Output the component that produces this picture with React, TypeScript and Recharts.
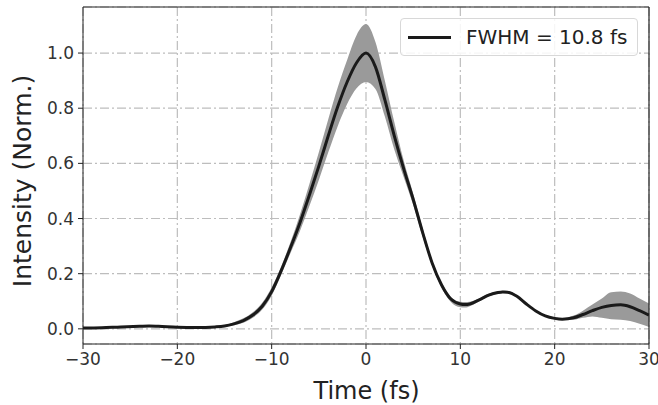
import {
  Area,
  CartesianGrid,
  ComposedChart,
  Line,
  ReferenceLine,
  XAxis,
  YAxis,
} from "recharts";

const FONT = "'DejaVu Sans', sans-serif";
const TICK_COLOR = "#333333";

// time axis (fs)
const time = [
  -30, -28, -26, -24, -23, -22, -20, -18, -16, -15, -14, -13, -12, -11, -10, -9, -8, -7, -6, -5, -4,
  -3, -2, -1, 0, 1, 2, 3, 4, 5, 6, 7, 8, 9, 10, 10.5, 11, 12, 13, 14, 14.5, 15, 16, 17, 18, 19, 20,
  20.8, 22, 23, 24, 25, 26, 27, 28, 29, 30,
];

// mean normalised intensity
const intensity = [
  0.003, 0.004, 0.007, 0.009, 0.01, 0.009, 0.006, 0.005, 0.007, 0.01, 0.018, 0.03, 0.05, 0.082, 0.135,
  0.21, 0.295, 0.385, 0.485, 0.59, 0.7, 0.805, 0.895, 0.965, 1.0, 0.95, 0.83, 0.7, 0.58, 0.47, 0.35,
  0.24, 0.16, 0.108, 0.09, 0.088, 0.09, 0.105, 0.122, 0.132, 0.134, 0.133, 0.118, 0.09, 0.065, 0.047,
  0.038, 0.035, 0.04, 0.052, 0.066, 0.078, 0.085, 0.087, 0.08, 0.066, 0.05,
];

// shaded spread
const lower = [
  0.001, 0.002, 0.005, 0.007, 0.008, 0.007, 0.004, 0.003, 0.005, 0.008, 0.013, 0.022, 0.04, 0.07, 0.12,
  0.195, 0.275, 0.355, 0.445, 0.54, 0.64, 0.735, 0.815, 0.872, 0.895, 0.87, 0.77, 0.65, 0.55, 0.45,
  0.335, 0.23, 0.15, 0.097, 0.078, 0.077, 0.082, 0.1, 0.117, 0.128, 0.13, 0.129, 0.114, 0.087, 0.062,
  0.044, 0.035, 0.032, 0.033, 0.04, 0.045, 0.04, 0.035, 0.033, 0.028, 0.018, 0.007,
];
const upper = [
  0.005, 0.006, 0.009, 0.011, 0.012, 0.011, 0.008, 0.007, 0.009, 0.013, 0.024, 0.038, 0.06, 0.095,
  0.15, 0.225, 0.315, 0.415, 0.525, 0.64, 0.76, 0.875, 0.975, 1.065, 1.105, 1.04, 0.9, 0.75, 0.61,
  0.49, 0.365, 0.25, 0.168, 0.115, 0.098, 0.097, 0.098, 0.11, 0.127, 0.136, 0.138, 0.137, 0.122,
  0.093, 0.068, 0.05, 0.041, 0.038, 0.048, 0.066, 0.088, 0.11, 0.133, 0.135, 0.128, 0.11, 0.092,
];

const xTicks = [-30, -20, -10, 0, 10, 20, 30];
const yTicks = [0, 0.2, 0.4, 0.6, 0.8, 1.0];
const Y_DOMAIN: [number, number] = [-0.055, 1.167];

const data = time.map((t, i) => ({
  t,
  mean: intensity[i],
  band: [lower[i], upper[i]],
}));

const fmtX = (v: number) => (v < 0 ? `\u2212${Math.abs(v)}` : `${v}`);

const XLabel = () => (
  <text x={366.5} y={399} textAnchor="middle" fill="#222" fontSize={24} fontFamily={FONT}>
    Time (fs)
  </text>
);

const YLabel = () => (
  <text
    x={31}
    y={181}
    transform="rotate(-90 31 181)"
    textAnchor="middle"
    fill="#222"
    fontSize={25}
    fontFamily={FONT}
  >
    Intensity (Norm.)
  </text>
);

export default function App() {
  return (
    <div style={{ position: "absolute", left: 0, top: 0, width: 658, height: 405, background: "#fff" }}>
      <ComposedChart
        width={658}
        height={405}
        data={data}
        margin={{ top: 7, right: 9, bottom: 4, left: 0 }}
      >
        <CartesianGrid stroke="#bdbdbd" strokeWidth={1.2} strokeDasharray="9 3 2 3" />
        <XAxis
          dataKey="t"
          type="number"
          domain={[-30, 30]}
          ticks={xTicks}
          tickFormatter={fmtX}
          allowDataOverflow
          height={57}
          stroke="#222"
          tickSize={5}
          tick={{ fill: TICK_COLOR, fontSize: 17, fontFamily: FONT }}
          tickMargin={4}
          label={{ content: XLabel }}
        />
        <YAxis
          type="number"
          domain={Y_DOMAIN}
          ticks={yTicks}
          allowDataOverflow
          tickFormatter={(v: number) => v.toFixed(1)}
          width={83}
          stroke="#222"
          tickSize={5}
          tick={{ fill: TICK_COLOR, fontSize: 17, fontFamily: FONT }}
          tickMargin={4}
          label={{ content: YLabel }}
        />
        <ReferenceLine y={Y_DOMAIN[1]} stroke="#222" strokeWidth={1.2} />
        <ReferenceLine x={30} stroke="#222" strokeWidth={1.2} />
        <Area
          dataKey="band"
          type="monotone"
          stroke="none"
          fill="#9a9a9a"
          fillOpacity={1}
          isAnimationActive={false}
        />
        <Line
          dataKey="mean"
          type="monotone"
          stroke="#1a1a1a"
          strokeWidth={3}
          dot={false}
          isAnimationActive={false}
        />
      </ComposedChart>
      <div
        style={{
          position: "absolute",
          left: 400,
          top: 18,
          width: 238,
          height: 38,
          boxSizing: "border-box",
          border: "1px solid #d8d8d8",
          borderRadius: 4,
          background: "rgba(255,255,255,0.85)",
          display: "flex",
          alignItems: "center",
          fontFamily: FONT,
          fontSize: 20,
          color: "#222",
        }}
      >
        <span style={{ display: "inline-block", width: 43, height: 3, background: "#1a1a1a", marginLeft: 7, marginRight: 15 }} />
        <span>FWHM = 10.8 fs</span>
      </div>
    </div>
  );
}
